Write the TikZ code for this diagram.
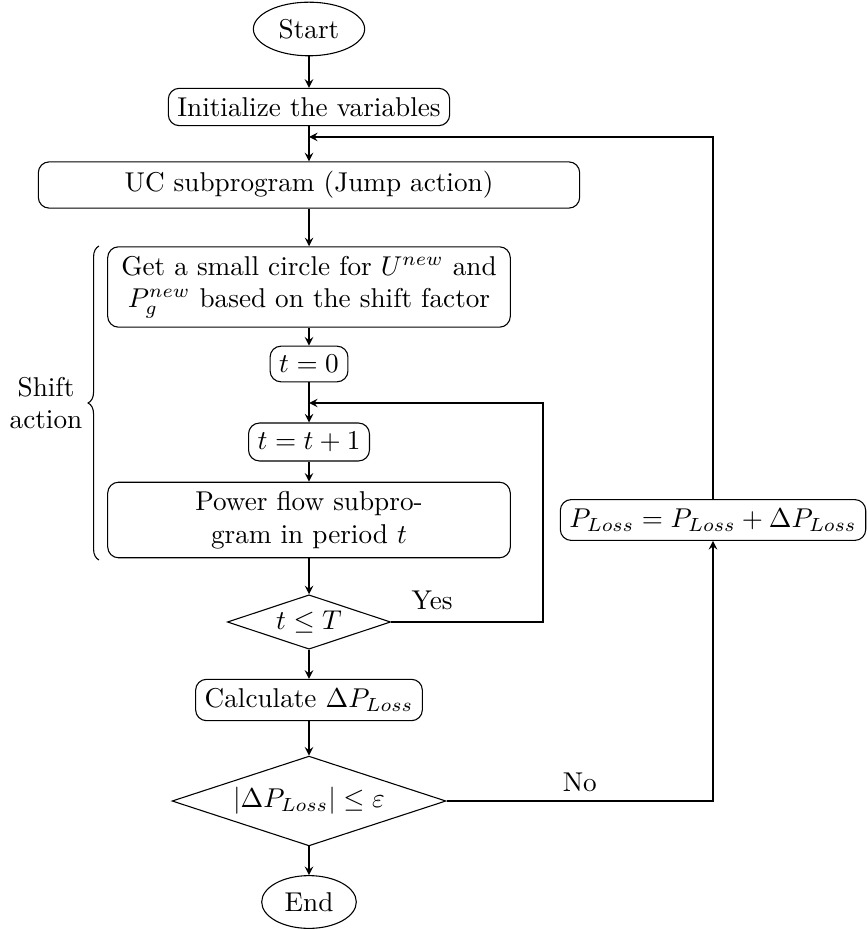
\documentclass[tikz,border=0pt]{standalone}
\usetikzlibrary{shapes.geometric,arrows,decorations.pathreplacing,calc}

\begin{document}
\begin{tikzpicture}[
  x=0.3676pt, y=-0.3676pt,
  proc/.style={draw, rounded corners=4pt, align=center},
  wideproc/.style={proc, minimum width=148pt},
  term/.style={draw, ellipse},
  decide/.style={draw, diamond, aspect=3, inner sep=0pt},
  flow/.style={-stealth},
  tag/.style={font=\normalsize}
]
\useasboundingbox (0,0) rectangle (866,929);

% main column
\node[term] (start) at (309,29) {Start};
\node[proc] (init) at (309,107) {Initialize the variables};
\node[proc, minimum width=199pt, minimum height=17pt] (uc) at (309,185) {UC subprogram (Jump action)};
\node[wideproc] (get) at (309,287) {Get a small circle for $U^{new}$ and\\ $P_g^{new}$ based on the shift factor};
\node[proc] (tzero) at (309,364) {$t=0$};
\node[proc] (tinc) at (309,442) {$t=t+1$};
\node[wideproc] (pf) at (309,520) {Power flow subpro-\\gram in period $t$};
\node[decide, minimum width=60pt, minimum height=20pt] (dt) at (309,622) {$t\leq T$};
\node[proc] (calc) at (309,700) {Calculate $\Delta P_{Loss}$};
\node[decide, minimum width=100.7pt, minimum height=33pt] (dl) at (309,801) {$|\Delta P_{Loss}|\leq\varepsilon$};
\node[term] (end) at (309,902) {End};

% loss update on the right
\node[proc] (upd) at (713,520) {$P_{Loss}=P_{Loss}+\Delta P_{Loss}$};

% merge points of the two loops
\coordinate (jtop) at (309,137);
\coordinate (jmid) at (309,403);

% straight connectors
\draw[flow] (start) -- (init);
\draw[flow] (init) -- (uc);
\draw[flow] (uc) -- (get);
\draw[flow] (get) -- (tzero);
\draw[flow] (tzero) -- (tinc);
\draw[flow] (tinc) -- (pf);
\draw[flow] (pf) -- (dt);
\draw[flow] (dt) -- (calc);
\draw[flow] (calc) -- (dl);
\draw[flow] (dl) -- (end);

% inner loop (Yes)
\draw[flow] (dt.east) -- (543,622) node[pos=0.27, above, yshift=1pt] (yes) {Yes}
  -- (543,403) -- (jmid);

% outer loop (No)
\draw[flow] (dl.east) -- node[above, pos=0.5] (no) {No} (dl.east -| upd) -- (upd.south);
\draw[flow] (upd.north) -- (upd.north |- jtop) -- (jtop);

% shift action brace
\draw[decorate, decoration={brace, amplitude=4pt}] (99,560) -- (99,246);
\node[align=center] (shift) at (46,403) {Shift\\action};
\end{tikzpicture}
\end{document}
